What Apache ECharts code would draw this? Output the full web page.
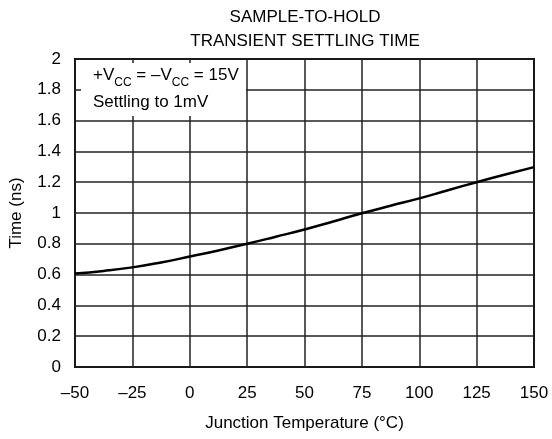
<!DOCTYPE html>
<html><head><meta charset="utf-8">
<script src="https://cdn.jsdelivr.net/npm/echarts@6/dist/echarts.min.js"></script>
<style>html,body{margin:0;padding:0;background:#fff}#c{width:552px;height:439px}</style>
</head><body><div id="c"></div>
<script>
const temps = [-50,-37.5,-25,-12.5,0,12.5,25,37.5,50,62.5,75,87.5,100,112.5,125,137.5,150];
const settling = [0.607,0.624,0.647,0.679,0.717,0.757,0.800,0.846,0.893,0.945,0.998,1.047,1.095,1.148,1.200,1.250,1.298];
const titleLines = ['SAMPLE-TO-HOLD','TRANSIENT SETTLING TIME'];
const xName = 'Junction Temperature (°C)';
const yName = 'Time (ns)';
const F = '"Liberation Sans", Arial, sans-serif';
const chart = echarts.init(document.getElementById('c'));
chart.setOption({
  animation:false,
  backgroundColor:'#fff',
  title:{text:titleLines.join('\n'),left:300,top:0,textAlign:'center',
    textStyle:{fontFamily:F,fontSize:17,fontWeight:'normal',color:'#000',lineHeight:24}},
  grid:{left:75,right:18,top:59,bottom:72,show:true,borderColor:'#000',borderWidth:2},
  xAxis:{type:'value',min:-50,max:150,interval:25,name:xName,nameLocation:'middle',nameGap:48,
    nameTextStyle:{fontFamily:F,fontSize:17,color:'#000'},
    axisLine:{show:false},axisTick:{show:false},
    axisLabel:{fontFamily:F,fontSize:17,color:'#000',margin:18,formatter:v=>v<0?'–'+Math.abs(v):String(v)},
    splitLine:{lineStyle:{color:'#222',width:1.5}}},
  yAxis:{type:'value',min:0,max:2,interval:0.2,name:yName,nameLocation:'middle',nameGap:50,
    nameTextStyle:{fontFamily:F,fontSize:17,color:'#000'},
    axisLine:{show:false},axisTick:{show:false},
    axisLabel:{fontFamily:F,fontSize:17,color:'#000',margin:14,formatter:v=>String(+v.toFixed(1))},
    splitLine:{lineStyle:{color:'#222',width:1.5}}},
  graphic:[
    {type:'rect',left:81,top:63,shape:{width:165,height:53},style:{fill:'#fff'},z:10},
    {type:'text',left:93,top:62,z:11,style:{
      text:'+V{s|CC} = –V{s|CC} = 15V\nSettling to 1mV',
      font:'17px '+F,fill:'#000',lineHeight:27,
      rich:{s:{fontSize:12,fontFamily:F,fill:'#000',verticalAlign:'bottom',lineHeight:27}}}}
  ],
  series:[{type:'line',data:temps.map((t,i)=>[t,settling[i]]),smooth:true,showSymbol:false,
    lineStyle:{color:'#000',width:2.5},z:5}]
});
</script></body></html>
